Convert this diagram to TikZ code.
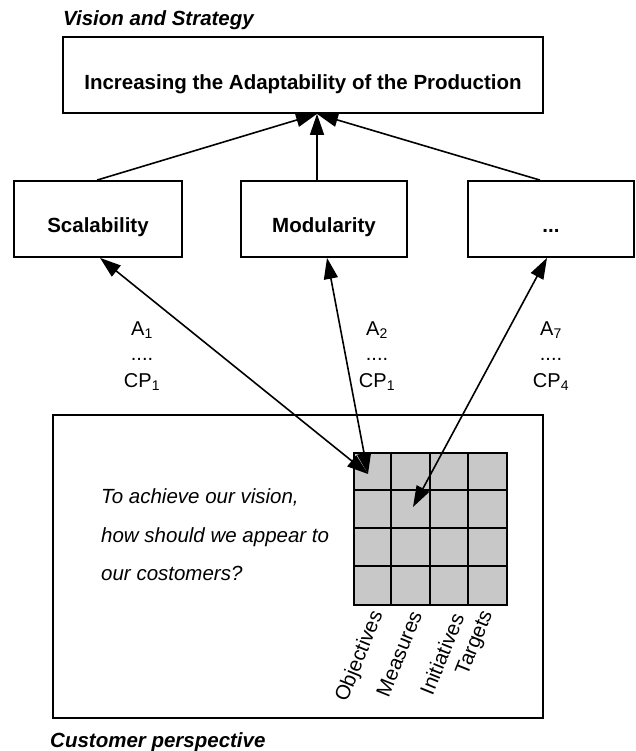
\documentclass[tikz,border=0pt]{standalone}
\usepackage{fontspec}
\setmainfont{Liberation Sans}
\usetikzlibrary{arrows.meta}
\definecolor{cellgray}{RGB}{200,200,200}
\tikzset{
  boxfont/.style={font=\fontsize{20.5}{24}\selectfont\bfseries},
  box/.style={draw, line width=1.8pt, inner sep=0pt, boxfont, text height=28pt, text depth=0pt},
  titletext/.style={inner sep=0pt, anchor=base west, font=\fontsize{20.5}{24}\selectfont\bfseries\itshape},
  lbl/.style={inner sep=0pt, anchor=base, font=\fontsize{20}{24}\selectfont},
  qtext/.style={inner sep=0pt, anchor=base west, font=\fontsize{20.5}{24}\selectfont\itshape},
  coltext/.style={inner sep=0pt, anchor=east, rotate=68, font=\fontsize{20.5}{24}\selectfont},
  conn/.style={line width=1.6pt},
  uparrow/.style={conn, -{Triangle[length=21pt,width=14pt]}},
  dblarrow/.style={conn, {Triangle[length=21pt,width=14pt]}-{Triangle[length=21pt,width=14pt]}},
}
\begin{document}
\begin{tikzpicture}[x=1pt, y=-1pt]
\useasboundingbox (0,0) rectangle (635,751);
% titles
\node[titletext] (vis) at (63,25.5) {Vision and Strategy};
\node[titletext] (cust) at (50,747) {Customer perspective};
% top box
\node[box, minimum width=480pt, minimum height=76pt, text height=29pt] (top) at (303,75) {Increasing the Adaptability of the Production};
% second row
\node[box, minimum width=168pt, minimum height=76pt] (scal) at (98,219) {Scalability};
\node[box, minimum width=166pt, minimum height=76pt] (mod) at (324,219) {Modularity};
\node[box, minimum width=166pt, minimum height=76pt] (dots) at (551,219) {...};
% bottom perspective box
\node[draw, line width=1.8pt, minimum width=490pt, minimum height=303pt, inner sep=0pt] (persp) at (298,566.5) {};
% grid
\node[draw, fill=cellgray, line width=2pt, minimum width=153pt, minimum height=152pt, inner sep=0pt] (grid) at (430.5,529) {};
\foreach \i in {1,2,3} {
  \draw[line width=2pt] ([xshift={\i*38.25pt}]grid.north west) -- ([xshift={\i*38.25pt}]grid.south west);
  \draw[line width=2pt] ([yshift={-\i*38pt}]grid.north west) -- ([yshift={-\i*38pt}]grid.north east);
}
% question text
\node[qtext] (q1) at (101,503) {To achieve our vision,};
\node[qtext] (q2) at (101,542) {how should we appear to};
\node[qtext] (q3) at (101,580) {our costomers?};
% column labels
\node[coltext] (c1) at (378,612) {Objectives};
\node[coltext] (c2) at (416,612) {Measures};
\node[coltext] (c3) at (458,614) {Initiatives};
\node[coltext] (c4) at (488,612) {Targets};
% arrow labels
\node[lbl] (a1) at (142,335) {A\textsubscript{1}};
\node[lbl] (d1) at (142,360) {....};
\node[lbl] (p1) at (142,387) {CP\textsubscript{1}};
\node[lbl] (a2) at (377,335) {A\textsubscript{2}};
\node[lbl] (d2) at (377,360) {....};
\node[lbl] (p2) at (377,387) {CP\textsubscript{1}};
\node[lbl] (a3) at (551,335) {A\textsubscript{7}};
\node[lbl] (d3) at (551,360) {....};
\node[lbl] (p3) at (551,387) {CP\textsubscript{4}};
% connection points
\coordinate (conv) at ([xshift=14pt]top.south);
\coordinate (scalT) at ([xshift=-1pt]scal.north);
\coordinate (modT) at ([xshift=-7pt]mod.north);
\coordinate (dotsT) at ([xshift=-11pt]dots.north);
\coordinate (scalB) at ([xshift=2pt]scal.south);
\coordinate (modB) at ([xshift=3pt]mod.south);
\coordinate (dotsB) at ([xshift=-4pt]dots.south);
\coordinate (g1) at ([xshift=15pt,yshift=-22pt]grid.north west);
\coordinate (g2) at ([xshift=60pt,yshift=-55pt]grid.north west);
% arrows to top
\draw[uparrow] (scalT) -- (conv);
\draw[uparrow] (modT) -- (conv);
\draw[uparrow] (dotsT) -- (conv);
% double arrows
\draw[dblarrow] (scalB) -- (g1);
\draw[dblarrow] (modB) -- (g1);
\draw[dblarrow] (dotsB) -- (g2);
\end{tikzpicture}
\end{document}
